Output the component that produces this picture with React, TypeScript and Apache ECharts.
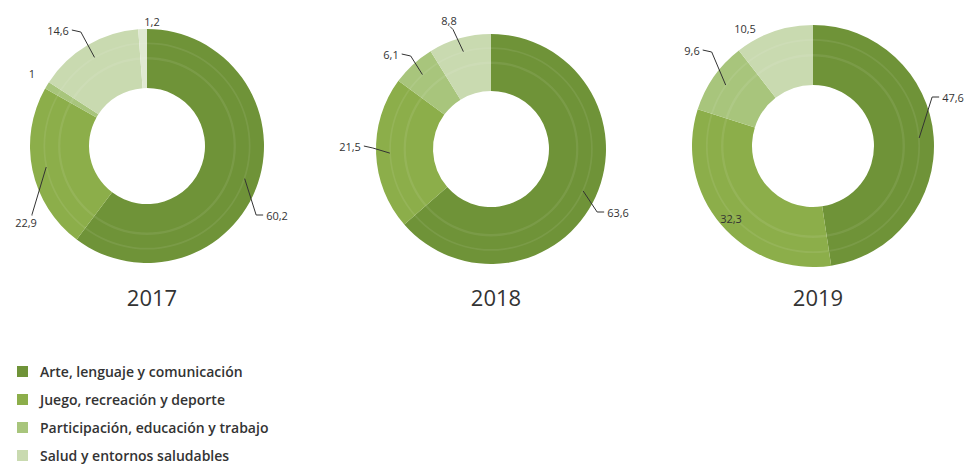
import React, { useEffect, useRef } from "react";
import * as echarts from "echarts";

const categories = [
  "Arte, lenguaje y comunicación",
  "Juego, recreación y deporte",
  "Participación, educación y trabajo",
  "Salud y entornos saludables",
];
const extraCategory = "Otro";
const years = ["2017", "2018", "2019"];
const values2017 = [60.2, 22.9, 1, 14.6, 1.2];
const values2018 = [63.6, 21.5, 6.1, 8.8];
const values2019 = [47.6, 32.3, 9.6, 10.5];
const colors = ["#6f9338", "#8cae4a", "#a8c57c", "#c9dab0", "#e0e9d2"];

// layout (not data): pie geometry and label placement [labelCenterX, labelCenterY, lineKind]
const layouts = [
  { center: [147, 146], radius: [58, 117] },
  { center: [491, 149], radius: [58, 115] },
  { center: [813, 146], radius: [61, 121] },
];
type Spec = [number, number, string];
const labelSpecs: Spec[][] = [
  [[277, 215, "right"], [26, 222, "below"], [32, 73, "none"], [58, 30, "left"], [152, 21, "none"]],
  [[618, 212, "right"], [350, 146, "left"], [391, 54, "left"], [449, 20, "above"]],
  [[953, 97, "right"], [731, 218, "none"], [692, 50, "left"], [745, 28, "none"]],
];

export default function App() {
  const ref = useRef<HTMLDivElement>(null);
  useEffect(() => {
    document.body.style.margin = "0";
    const chart = echarts.init(ref.current!, null, { renderer: "svg" });
    const names = [...categories, extraCategory];
    const allVals = [values2017, values2018, values2019];
    const series: any[] = [];

    // coloured donuts
    allVals.forEach((vals, k) => {
      series.push({
        type: "pie",
        z: 2,
        center: layouts[k].center,
        radius: layouts[k].radius,
        startAngle: 90,
        clockwise: true,
        silent: true,
        label: { show: false },
        labelLine: { show: false },
        data: vals.map((v, i) => ({ name: names[i], value: v, itemStyle: { color: colors[i] } })),
      });
    });

    // faint concentric bands seen in the reference donuts
    layouts.forEach((l) => {
      const R = l.radius[1];
      [[0.74, 0.76], [0.87, 0.885]].forEach(([a, b]) => {
        series.push({
          type: "pie",
          z: 2,
          center: l.center,
          radius: [R * a, R * b],
          silent: true,
          label: { show: false },
          labelLine: { show: false },
          data: [{ name: "_band", value: 1, itemStyle: { color: "rgba(255,255,255,0.08)" } }],
        });
      });
    });

    // transparent copies on top that carry the value labels and leader lines
    allVals.forEach((vals, k) => {
      series.push({
        type: "pie",
        z: 3,
        center: layouts[k].center,
        radius: layouts[k].radius,
        startAngle: 90,
        clockwise: true,
        silent: true,
        avoidLabelOverlap: false,
        data: vals.map((v, i) => ({
          name: names[i],
          value: v,
          itemStyle: { color: "rgba(0,0,0,0)" },
          labelLine: { show: labelSpecs[k][i][2] !== "none" },
        })),
        label: {
          show: true,
          position: "outside",
          formatter: (p: any) => String(p.value).replace(".", ","),
          fontFamily: "Open Sans",
          fontSize: 11,
          color: "#333",
        },
        labelLine: {
          show: true,
          length: 8,
          length2: 8,
          smooth: false,
          minTurnAngle: 0,
          maxSurfaceAngle: 180,
          lineStyle: { color: "#333", width: 1 },
        },
        labelLayout: (params: any) => {
          const spec = labelSpecs[k][params.dataIndex];
          if (!spec) return {};
          const r = params.labelRect;
          const [tx, ty, kind] = spec;
          const dx = tx - (r.x + r.width / 2);
          const dy = ty - (r.y + r.height / 2);
          const out: any = { dx, dy };
          const pts = params.labelLinePoints;
          if (pts && kind !== "none") {
            const c = layouts[k].center;
            const p0 = [c[0] + (pts[0][0] - c[0]) * 0.88, c[1] + (pts[0][1] - c[1]) * 0.88];
            const left = tx - r.width / 2;
            const right = tx + r.width / 2;
            const top = ty - r.height / 2;
            const bottom = ty + r.height / 2;
            let p1: number[], p2: number[];
            if (kind === "right") {
              p1 = [left - 10, ty];
              p2 = [left - 3, ty];
            } else if (kind === "left") {
              p1 = [right + 12, ty + 2];
              p2 = [right + 3, ty];
            } else if (kind === "above") {
              p1 = [tx + 4, bottom + 4];
              p2 = [tx + 1, bottom + 1];
            } else {
              p1 = [tx + 6, top - 2];
              p2 = [tx + 6, top - 1];
            }
            out.labelLinePoints = [p0, p1, p2];
          }
          return out;
        },
        emphasis: { disabled: true },
      });
    });

    chart.setOption({
      animation: false,
      backgroundColor: "#ffffff",
      title: years.map((y, k) => ({
        text: y,
        left: layouts[k].center[0],
        top: 281,
        textAlign: "center",
        textStyle: { fontFamily: "Open Sans", fontSize: 22, fontWeight: "normal", color: "#333" },
      })),
      legend: {
        data: categories.map((c, i) => ({ name: c, itemStyle: { color: colors[i] } })),
        orient: "vertical",
        left: 17,
        top: 362,
        height: 110,
        padding: 0,
        itemWidth: 11,
        itemHeight: 11,
        itemGap: 9,
        icon: "rect",
        selectedMode: false,
        textStyle: {
          fontFamily: "Open Sans",
          fontSize: 14,
          fontWeight: 600,
          color: "#333",
          padding: [0, 0, 0, 7],
          height: 19,
          lineHeight: 19,
        },
      },
      series,
    });
    return () => chart.dispose();
  }, []);
  return <div ref={ref} style={{ width: 970, height: 468 }} />;
}
